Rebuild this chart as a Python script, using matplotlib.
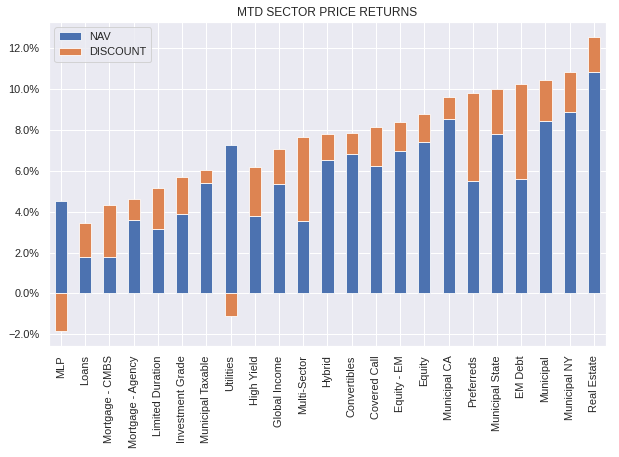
import numpy as np
import matplotlib
matplotlib.use("Agg")
import matplotlib.pyplot as plt
import seaborn as sns
from matplotlib.ticker import PercentFormatter

sectors = ["MLP", "Loans", "Mortgage - CMBS", "Mortgage - Agency", "Limited Duration",
           "Investment Grade", "Municipal Taxable", "Utilities", "High Yield", "Global Income",
           "Multi-Sector", "Hybrid", "Convertibles", "Covered Call", "Equity - EM", "Equity",
           "Municipal CA", "Preferreds", "Municipal State", "EM Debt", "Municipal",
           "Municipal NY", "Real Estate"]
# returns in percent
nav = [4.52, 1.80, 1.80, 3.61, 3.17, 3.90, 5.41, 7.25, 3.79, 5.37, 3.56, 6.54, 6.83,
       6.24, 6.98, 7.41, 8.54, 5.51, 7.80, 5.61, 8.44, 8.86, 10.83]
discount = [-1.85, 1.64, 2.52, 1.00, 1.98, 1.79, 0.62, -1.11, 2.39, 1.68, 4.08, 1.25, 1.00,
            1.89, 1.39, 1.35, 1.10, 4.28, 2.23, 4.66, 2.03, 1.98, 1.74]

nav = np.array(nav) / 100
discount = np.array(discount) / 100

sns.set_theme()
plt.rcParams['font.family'] = ['Liberation Sans', 'DejaVu Sans']

fig = plt.figure(figsize=(619 / 72, 457 / 72), dpi=72)
ax = fig.add_axes([0.079, 0.243, 0.9, 0.709])

x = np.arange(len(sectors))
ax.bar(x, nav, width=0.5, label="NAV", color="C0", edgecolor="white", linewidth=0.8)
# stacked like pandas: negatives hang from zero
bottom = np.where(discount >= 0, nav, 0)
ax.bar(x, discount, width=0.5, bottom=bottom, label="DISCOUNT", color="C1",
       edgecolor="white", linewidth=0.8)

ax.set_xticks(x)
ax.set_xticklabels(sectors, rotation=90)
ax.set_xlim(-0.5, len(sectors) - 0.5)
lo = min(discount.min(), 0)
hi = (nav + np.clip(discount, 0, None)).max()
pad = (hi - lo) * 0.05
ax.set_ylim(lo - pad, hi + pad)
ax.yaxis.set_major_formatter(PercentFormatter(xmax=1, decimals=1))
ax.set_title("MTD SECTOR PRICE RETURNS", fontsize=12)
ax.legend(loc="upper left")

fig.savefig("out.png", dpi=72)
